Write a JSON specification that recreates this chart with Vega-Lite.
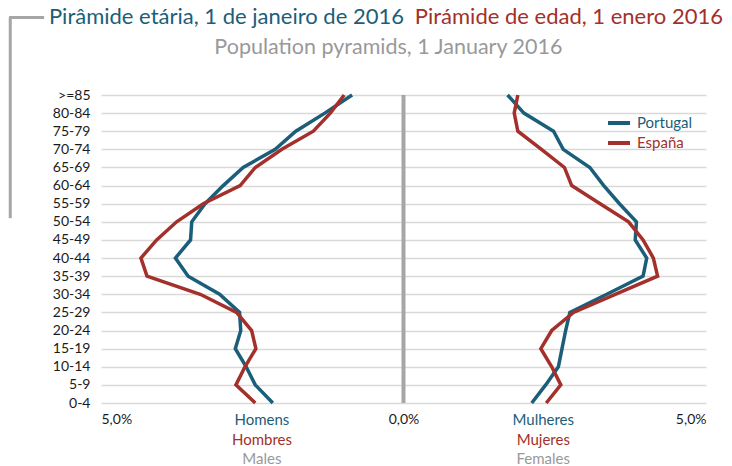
{
  "$schema": "https://vega.github.io/schema/vega-lite/v6.json",
  "autosize": {"type": "none"},
  "padding": {"left": 101, "top": 95, "right": 26, "bottom": 63},
  "width": 605,
  "height": 308,
  "background": "white",
  "config": {
    "view": {"stroke": null},
    "font": "Lato",
    "axis": {"labelFont": "Lato", "titleFont": "Lato"},
    "legend": {"labelFont": "Lato"},
    "text": {"font": "Lato"}
  },
  "datasets": {"one": [{}]},
  "resolve": {"scale": {"y": "independent"}},
  "layer": [
    {
      "data": {"name": "one"},
      "mark": {"type": "rule", "color": "#a6a6a6", "strokeWidth": 4},
      "encoding": {"x": {"datum": 0, "type": "quantitative", "scale": {"domain": [-5, 5], "nice": false, "zero": false}}}
    },
    {
      "data": {"values": [
        {"age": "0-4", "sex": "M", "country": "Portugal", "value": -2.16},
        {"age": "5-9", "sex": "M", "country": "Portugal", "value": -2.45},
        {"age": "10-14", "sex": "M", "country": "Portugal", "value": -2.60},
        {"age": "15-19", "sex": "M", "country": "Portugal", "value": -2.78},
        {"age": "20-24", "sex": "M", "country": "Portugal", "value": -2.69},
        {"age": "25-29", "sex": "M", "country": "Portugal", "value": -2.71},
        {"age": "30-34", "sex": "M", "country": "Portugal", "value": -3.04},
        {"age": "35-39", "sex": "M", "country": "Portugal", "value": -3.56},
        {"age": "40-44", "sex": "M", "country": "Portugal", "value": -3.77},
        {"age": "45-49", "sex": "M", "country": "Portugal", "value": -3.52},
        {"age": "50-54", "sex": "M", "country": "Portugal", "value": -3.50},
        {"age": "55-59", "sex": "M", "country": "Portugal", "value": -3.28},
        {"age": "60-64", "sex": "M", "country": "Portugal", "value": -2.98},
        {"age": "65-69", "sex": "M", "country": "Portugal", "value": -2.65},
        {"age": "70-74", "sex": "M", "country": "Portugal", "value": -2.12},
        {"age": "75-79", "sex": "M", "country": "Portugal", "value": -1.78},
        {"age": "80-84", "sex": "M", "country": "Portugal", "value": -1.30},
        {"age": ">=85", "sex": "M", "country": "Portugal", "value": -0.85},
        {"age": "0-4", "sex": "F", "country": "Portugal", "value": 2.12},
        {"age": "5-9", "sex": "F", "country": "Portugal", "value": 2.35},
        {"age": "10-14", "sex": "F", "country": "Portugal", "value": 2.56},
        {"age": "15-19", "sex": "F", "country": "Portugal", "value": 2.62},
        {"age": "20-24", "sex": "F", "country": "Portugal", "value": 2.68},
        {"age": "25-29", "sex": "F", "country": "Portugal", "value": 2.75},
        {"age": "30-34", "sex": "F", "country": "Portugal", "value": 3.36},
        {"age": "35-39", "sex": "F", "country": "Portugal", "value": 3.96},
        {"age": "40-44", "sex": "F", "country": "Portugal", "value": 4.02},
        {"age": "45-49", "sex": "F", "country": "Portugal", "value": 3.83},
        {"age": "50-54", "sex": "F", "country": "Portugal", "value": 3.85},
        {"age": "55-59", "sex": "F", "country": "Portugal", "value": 3.57},
        {"age": "60-64", "sex": "F", "country": "Portugal", "value": 3.31},
        {"age": "65-69", "sex": "F", "country": "Portugal", "value": 3.08},
        {"age": "70-74", "sex": "F", "country": "Portugal", "value": 2.64},
        {"age": "75-79", "sex": "F", "country": "Portugal", "value": 2.48},
        {"age": "80-84", "sex": "F", "country": "Portugal", "value": 1.99},
        {"age": ">=85", "sex": "F", "country": "Portugal", "value": 1.72},
        {"age": "0-4", "sex": "M", "country": "España", "value": -2.45},
        {"age": "5-9", "sex": "M", "country": "España", "value": -2.77},
        {"age": "10-14", "sex": "M", "country": "España", "value": -2.62},
        {"age": "15-19", "sex": "M", "country": "España", "value": -2.44},
        {"age": "20-24", "sex": "M", "country": "España", "value": -2.51},
        {"age": "25-29", "sex": "M", "country": "España", "value": -2.76},
        {"age": "30-34", "sex": "M", "country": "España", "value": -3.36},
        {"age": "35-39", "sex": "M", "country": "España", "value": -4.24},
        {"age": "40-44", "sex": "M", "country": "España", "value": -4.34},
        {"age": "45-49", "sex": "M", "country": "España", "value": -4.08},
        {"age": "50-54", "sex": "M", "country": "España", "value": -3.75},
        {"age": "55-59", "sex": "M", "country": "España", "value": -3.31},
        {"age": "60-64", "sex": "M", "country": "España", "value": -2.70},
        {"age": "65-69", "sex": "M", "country": "España", "value": -2.45},
        {"age": "70-74", "sex": "M", "country": "España", "value": -2.01},
        {"age": "75-79", "sex": "M", "country": "España", "value": -1.49},
        {"age": "80-84", "sex": "M", "country": "España", "value": -1.21},
        {"age": ">=85", "sex": "M", "country": "España", "value": -0.98},
        {"age": "0-4", "sex": "F", "country": "España", "value": 2.36},
        {"age": "5-9", "sex": "F", "country": "España", "value": 2.60},
        {"age": "10-14", "sex": "F", "country": "España", "value": 2.45},
        {"age": "15-19", "sex": "F", "country": "España", "value": 2.27},
        {"age": "20-24", "sex": "F", "country": "España", "value": 2.45},
        {"age": "25-29", "sex": "F", "country": "España", "value": 2.81},
        {"age": "30-34", "sex": "F", "country": "España", "value": 3.50},
        {"age": "35-39", "sex": "F", "country": "España", "value": 4.20},
        {"age": "40-44", "sex": "F", "country": "España", "value": 4.13},
        {"age": "45-49", "sex": "F", "country": "España", "value": 3.96},
        {"age": "50-54", "sex": "F", "country": "España", "value": 3.72},
        {"age": "55-59", "sex": "F", "country": "España", "value": 3.25},
        {"age": "60-64", "sex": "F", "country": "España", "value": 2.78},
        {"age": "65-69", "sex": "F", "country": "España", "value": 2.66},
        {"age": "70-74", "sex": "F", "country": "España", "value": 2.28},
        {"age": "75-79", "sex": "F", "country": "España", "value": 1.89},
        {"age": "80-84", "sex": "F", "country": "España", "value": 1.83},
        {"age": ">=85", "sex": "F", "country": "España", "value": 1.89}
      ]},
      "mark": {"type": "line", "strokeWidth": 3.5, "strokeJoin": "miter"},
      "encoding": {
        "x": {
          "field": "value", "type": "quantitative",
          "scale": {"domain": [-5, 5], "nice": false, "zero": false},
          "axis": {
            "values": [-5, 0, 5], "title": null, "grid": false, "domain": false, "ticks": false,
            "labelExpr": "replace(format(abs(datum.value), '.1f'), '.', ',') + '%'",
            "labelFontSize": 14, "labelColor": "#1a1a1a", "labelPadding": 9
          }
        },
        "y": {
          "field": "age", "type": "ordinal",
          "scale": {"type": "point", "padding": 0, "domain": [">=85", "80-84", "75-79", "70-74", "65-69", "60-64", "55-59", "50-54", "45-49", "40-44", "35-39", "30-34", "25-29", "20-24", "15-19", "10-14", "5-9", "0-4"]},
          "axis": {
            "title": null, "grid": true, "gridColor": "#d9d9d9", "gridWidth": 1.5,
            "domain": false, "ticks": false, "labelFontSize": 14, "labelColor": "#1a1a1a", "labelPadding": 11
          }
        },
        "color": {
          "field": "country", "type": "nominal",
          "scale": {"domain": ["Portugal", "España"], "range": ["#1b5e7a", "#a3302a"]},
          "legend": {
            "title": null, "orient": "none", "legendX": 505, "legendY": 18,
            "symbolType": "stroke", "symbolSize": 484, "symbolStrokeWidth": 4,
            "clipHeight": 20, "rowPadding": 0, "labelFontSize": 15, "labelOffset": 5,
            "labelColor": {"expr": "datum.value === 'España' ? '#a3302a' : '#1b5e7a'"}
          }
        },
        "detail": {"field": "sex"},
        "order": {"value": null}
      }
    },
    {
      "data": {"name": "one"},
      "mark": {"type": "rule", "color": "#a6a6a6", "strokeWidth": 3},
      "encoding": {
        "x": {"datum": -6.5, "type": "quantitative"},
        "y": {"datum": 21.28, "type": "quantitative", "scale": {"domain": [0, 17], "nice": false, "zero": false}, "axis": null},
        "y2": {"datum": 10.2}
      }
    },
    {
      "data": {"name": "one"},
      "mark": {"type": "rule", "color": "#a6a6a6", "strokeWidth": 3},
      "encoding": {
        "x": {"datum": -6.52, "type": "quantitative"},
        "x2": {"datum": -5.94},
        "y": {"datum": 21.28, "type": "quantitative", "scale": {"domain": [0, 17], "nice": false, "zero": false}, "axis": null}
      }
    },
    {
      "data": {"name": "one"},
      "mark": {"type": "text", "align": "left", "baseline": "middle", "fontSize": 22, "color": "#1b5e7a", "text": "Pirâmide etária, 1 de janeiro de 2016"},
      "encoding": {
        "x": {"datum": -5.86, "type": "quantitative"},
        "y": {"datum": 21.28, "type": "quantitative", "scale": {"domain": [0, 17], "nice": false, "zero": false}, "axis": null}
      }
    },
    {
      "data": {"name": "one"},
      "mark": {"type": "text", "align": "right", "baseline": "middle", "fontSize": 22, "color": "#a3302a", "text": "Pirámide de edad, 1 enero 2016"},
      "encoding": {
        "x": {"datum": 5.28, "type": "quantitative"},
        "y": {"datum": 21.28, "type": "quantitative", "scale": {"domain": [0, 17], "nice": false, "zero": false}, "axis": null}
      }
    },
    {
      "data": {"name": "one"},
      "mark": {"type": "text", "align": "center", "baseline": "middle", "fontSize": 21.5, "color": "#999999", "text": "Population pyramids, 1 January 2016"},
      "encoding": {
        "x": {"datum": -0.25, "type": "quantitative"},
        "y": {"datum": 19.62, "type": "quantitative", "scale": {"domain": [0, 17], "nice": false, "zero": false}, "axis": null}
      }
    },
    {
      "data": {"name": "one"},
      "mark": {"type": "text", "align": "center", "baseline": "middle", "fontSize": 15, "color": "#1b5e7a", "text": "Homens"},
      "encoding": {
        "x": {"datum": -2.34, "type": "quantitative"},
        "y": {"datum": -0.94, "type": "quantitative", "scale": {"domain": [0, 17], "nice": false, "zero": false}, "axis": null}
      }
    },
    {
      "data": {"name": "one"},
      "mark": {"type": "text", "align": "center", "baseline": "middle", "fontSize": 15, "color": "#a3302a", "text": "Hombres"},
      "encoding": {
        "x": {"datum": -2.34, "type": "quantitative"},
        "y": {"datum": -2.04, "type": "quantitative", "scale": {"domain": [0, 17], "nice": false, "zero": false}, "axis": null}
      }
    },
    {
      "data": {"name": "one"},
      "mark": {"type": "text", "align": "center", "baseline": "middle", "fontSize": 15, "color": "#999999", "text": "Males"},
      "encoding": {
        "x": {"datum": -2.34, "type": "quantitative"},
        "y": {"datum": -3.09, "type": "quantitative", "scale": {"domain": [0, 17], "nice": false, "zero": false}, "axis": null}
      }
    },
    {
      "data": {"name": "one"},
      "mark": {"type": "text", "align": "center", "baseline": "middle", "fontSize": 15, "color": "#1b5e7a", "text": "Mulheres"},
      "encoding": {
        "x": {"datum": 2.31, "type": "quantitative"},
        "y": {"datum": -0.94, "type": "quantitative", "scale": {"domain": [0, 17], "nice": false, "zero": false}, "axis": null}
      }
    },
    {
      "data": {"name": "one"},
      "mark": {"type": "text", "align": "center", "baseline": "middle", "fontSize": 15, "color": "#a3302a", "text": "Mujeres"},
      "encoding": {
        "x": {"datum": 2.31, "type": "quantitative"},
        "y": {"datum": -2.04, "type": "quantitative", "scale": {"domain": [0, 17], "nice": false, "zero": false}, "axis": null}
      }
    },
    {
      "data": {"name": "one"},
      "mark": {"type": "text", "align": "center", "baseline": "middle", "fontSize": 15, "color": "#999999", "text": "Females"},
      "encoding": {
        "x": {"datum": 2.31, "type": "quantitative"},
        "y": {"datum": -3.09, "type": "quantitative", "scale": {"domain": [0, 17], "nice": false, "zero": false}, "axis": null}
      }
    }
  ]
}
